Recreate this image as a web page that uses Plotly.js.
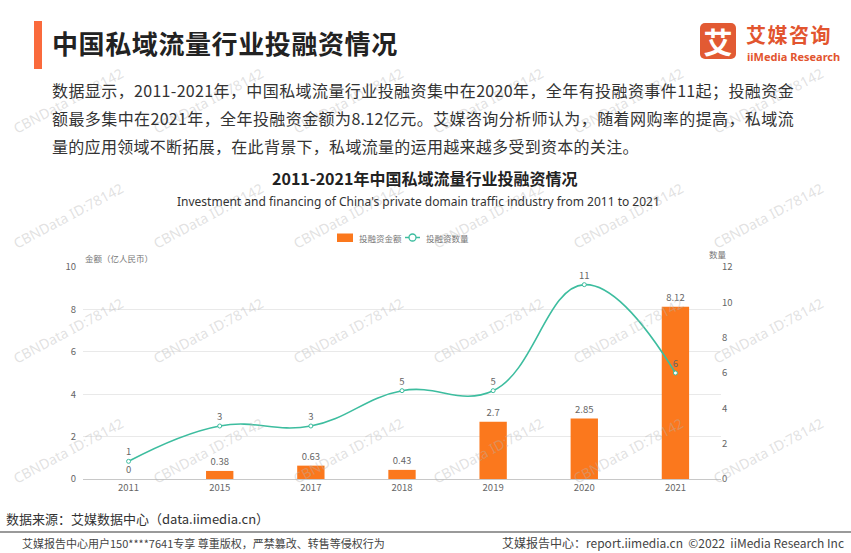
<!DOCTYPE html>
<html>
<head>
<meta charset="utf-8">
<script src="https://cdn.plot.ly/plotly-3.0.1.min.js"></script>
<style>
  body { margin: 0; background: #fff; font-family: "Noto Sans CJK SC", "Noto Sans", sans-serif; }
  #page { position: relative; width: 851px; height: 553px; overflow: hidden; }
  #chart { position: absolute; left: 0; top: 0; width: 851px; height: 553px; }
  .over { position: absolute; pointer-events: none; z-index: 2; white-space: nowrap; }
  #mark { left: 34px; top: 21px; width: 8px; height: 48px; background: #fa6a3c; }
  #head { left: 52px; top: 24px; font-size: 26px; font-weight: bold; color: #222; line-height: 38px; letter-spacing: 0.6px; }
  #para { left: 52px; top: 76px; width: 742px; font-size: 16px; color: #333; line-height: 28px; letter-spacing: 0.3px; white-space: normal; }
  #para div.j { text-align: justify; text-align-last: justify; }
  #logo-box { left: 700px; top: 23px; width: 36px; height: 36px; border-radius: 5px; background: #e25a33;
              color: #fff; font-size: 29px; font-weight: bold; text-align: center; line-height: 36px; }
  #logo-cn { left: 746px; top: 23px; font-size: 20px; font-weight: bold; color: #e2552f; letter-spacing: 1.5px; line-height: 24px; }
  #logo-en { left: 747px; top: 50px; font-size: 11px; font-weight: bold; color: #e2552f; line-height: 13px; font-family: "Noto Sans", sans-serif; }
  #src { left: 6px; top: 510px; font-size: 13px; color: #333; line-height: 18px; }
  #rule { left: 0; top: 531px; width: 851px; height: 2px; background: #9a9a9a; }
  #foot-l { left: 22px; top: 536px; font-size: 11px; color: #444; line-height: 14px; }
  #foot-r { left: 502px; top: 535px; font-size: 12px; color: #444; line-height: 15px; }
</style>
</head>
<body>
<div id="page">
  <div id="chart"></div>
  <div class="over" id="mark"></div>
  <div class="over" id="head">中国私域流量行业投融资情况</div>
  <div class="over" id="para">
    <div class="j">数据显示，2011-2021年，中国私域流量行业投融资集中在2020年，全年有投融资事件11起；投融资金</div>
    <div class="j">额最多集中在2021年，全年投融资金额为8.12亿元。艾媒咨询分析师认为，随着网购率的提高，私域流</div>
    <div>量的应用领域不断拓展，在此背景下，私域流量的运用越来越多受到资本的关注。</div>
  </div>
  <div class="over" id="logo-box">艾</div>
  <div class="over" id="logo-cn">艾媒咨询</div>
  <div class="over" id="logo-en">iiMedia Research</div>
  <div class="over" id="src">数据来源：艾媒数据中心（data.iimedia.cn）</div>
  <div class="over" id="rule"></div>
  <div class="over" id="foot-l">艾媒报告中心用户150****7641专享 尊重版权，严禁篡改、转售等侵权行为</div>
  <div class="over" id="foot-r">艾媒报告中心：report.iimedia.cn&nbsp;&nbsp;©2022&nbsp;&nbsp;iiMedia Research Inc</div>
</div>
<script>
// 数据
const years = ['2011', '2015', '2017', '2018', '2019', '2020', '2021'];
const amounts = [0, 0.38, 0.63, 0.43, 2.7, 2.85, 8.12];   // 投融资金额（亿人民币）
const counts = [1, 3, 3, 5, 5, 11, 6];                      // 投融资数量
const seriesNames = ['投融资金额', '投融资数量'];

const CJK = '"Noto Sans CJK SC", "Noto Sans", sans-serif';
const BAR = '#fb781d', LINE = '#3dbd9f';

// 绘图区（像素）
const L = 83, T = 267, W = 638, H = 212;
const px = x => (x - L) / W;
const py = y => (T + H - y) / H;

function note(x, y, text, size, color, xanchor, extra) {
    return Object.assign({
        xref: 'paper', yref: 'paper', x: px(x), y: py(y), showarrow: false,
        xanchor: xanchor || 'center', yanchor: 'middle', text: text,
        font: {family: CJK, size: size, color: color}
    }, extra || {});
}

// 水印
const wmRows = [100, 215, 330, 450];
const wmCols = [68, 208, 348, 488, 628, 768];
const annotations = [];
wmRows.forEach(r => wmCols.forEach(c => {
    annotations.push(note(c, r, 'CBNData ID:78142', 14, 'rgba(180,180,180,0.4)', 'center',
        {textangle: -28, font: {family: 'Noto Sans, sans-serif', size: 14, color: 'rgba(180,180,180,0.4)'}}));
}));

// 标题与坐标轴名称
annotations.push(note(424, 178, '<b>2011-2021年中国私域流量行业投融资情况</b>', 16, '#222'));
annotations.push(note(418, 201, "Investment and financing of China's private domain traffic industry from 2011 to 2021", 12, '#333', 'center',
    {font: {family: 'Noto Sans, sans-serif', size: 12, color: '#333'}}));
annotations.push(note(83, 258, '金额（亿人民币）', 8.5, '#777', 'left'));
annotations.push(note(729, 254, '数量', 8.5, '#777', 'right'));

// 图例
annotations.push(note(357, 237.5, seriesNames[0], 8.5, '#777', 'left'));
annotations.push(note(424, 237.5, seriesNames[1], 8.5, '#777', 'left'));
const shapes = [
    {type: 'rect', xref: 'paper', yref: 'paper', x0: px(337), x1: px(353), y0: py(242), y1: py(233.5),
     fillcolor: BAR, line: {width: 0}},
    {type: 'line', xref: 'paper', yref: 'paper', x0: px(405), x1: px(420), y0: py(237.5), y1: py(237.5),
     line: {color: LINE, width: 1.5}},
    {type: 'circle', xref: 'paper', yref: 'paper', x0: px(409), x1: px(416), y0: py(241), y1: py(234),
     fillcolor: '#fff', line: {color: LINE, width: 1.3}}
];

Plotly.newPlot('chart', [{
    type: 'bar',
    x: years,
    y: amounts,
    name: seriesNames[0],
    width: 0.3,
    marker: {color: BAR},
    text: amounts.map(String),
    textposition: 'outside',
    cliponaxis: false,
    textfont: {family: CJK, size: 9.5, color: '#666'},
    hoverinfo: 'skip'
}, {
    type: 'scatter',
    x: years,
    y: counts,
    yaxis: 'y2',
    name: seriesNames[1],
    mode: 'lines+markers+text',
    line: {color: LINE, width: 1.6, shape: 'spline', smoothing: 1.2},
    marker: {size: 4, color: '#fff', line: {color: LINE, width: 1}},
    text: counts.map(String),
    textposition: 'top center',
    cliponaxis: false,
    textfont: {family: CJK, size: 9.5, color: '#666'},
    hoverinfo: 'skip'
}], {
    width: 851,
    height: 553,
    margin: {l: L, r: 851 - L - W, t: T, b: 553 - T - H},
    paper_bgcolor: 'rgba(0,0,0,0)',
    plot_bgcolor: 'rgba(0,0,0,0)',
    font: {family: CJK, color: '#666'},
    showlegend: false,
    xaxis: {
        type: 'category',
        showgrid: false,
        showline: true,
        linecolor: '#c8c8c8',
        linewidth: 1,
        ticks: '',
        tickfont: {family: CJK, size: 9.5, color: '#666'},
        fixedrange: true
    },
    yaxis: {
        range: [0, 10],
        dtick: 2,
        gridcolor: '#e9e9e9',
        zeroline: false,
        ticks: '',
        ticklabelstandoff: 6,
        tickfont: {family: CJK, size: 9.5, color: '#666'},
        fixedrange: true
    },
    yaxis2: {
        range: [0, 12],
        dtick: 2,
        overlaying: 'y',
        side: 'right',
        showgrid: false,
        zeroline: false,
        ticks: '',
        tickfont: {family: CJK, size: 9.5, color: '#666'},
        fixedrange: true
    },
    annotations: annotations,
    shapes: shapes
}, {displayModeBar: false, staticPlot: true});
</script>
</body>
</html>
